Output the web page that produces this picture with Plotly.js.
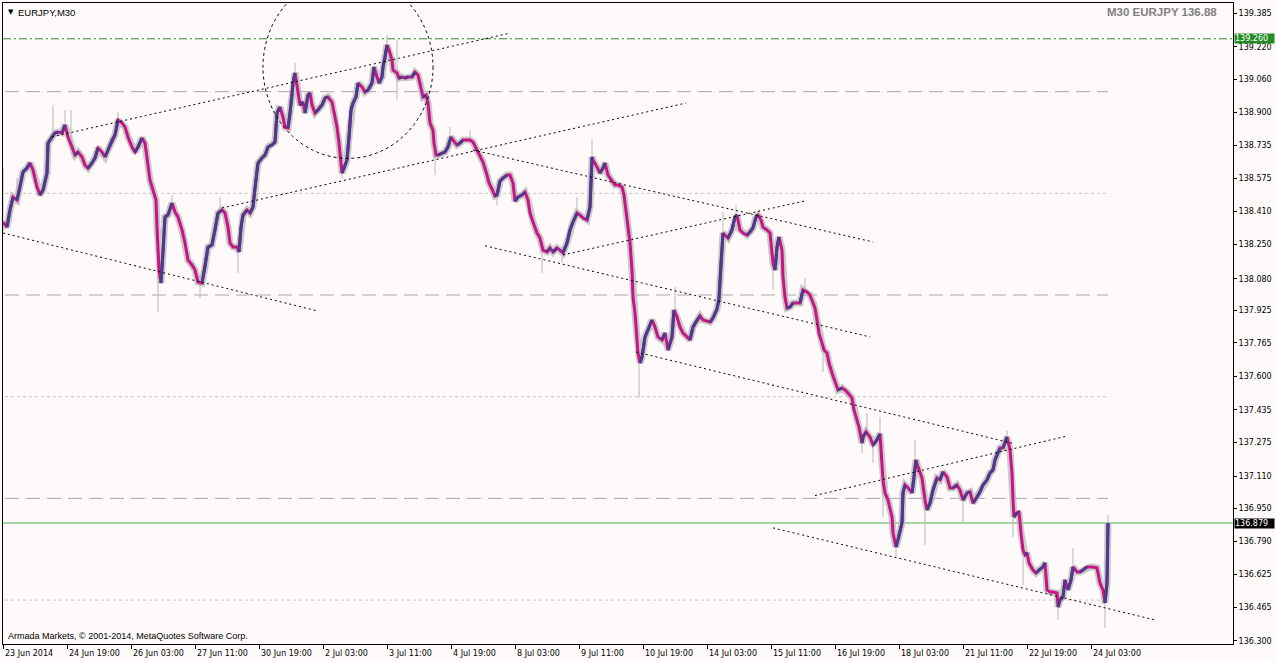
<!DOCTYPE html>
<html>
<head>
<meta charset="utf-8">
<script src="https://cdn.plot.ly/plotly-3.0.1.min.js"></script>
<style>
html,body{margin:0;padding:0;background:#FFFAFA;}
#chart{width:1276px;height:662px;}
</style>
</head>
<body>
<div id="chart"></div>
<script>
// ---- data ----
// bar position (1 unit = one M30 bar column) and close price
const barIndex = [
3,7,10,13,17,20,23,27,30,33,
37,40,43,47,48,52,55,58,62,65,
68,72,75,78,82,85,88,92,95,98,
102,105,108,112,115,118,122,125,128,132,
135,138,142,145,147,150,153,156,157,159,
161,163,165,168,172,175,178,182,185,188,
192,195,198,202,205,208,212,215,218,222,
225,228,230,233,237,239,241,243,247,250,
253,255,258,262,265,268,272,275,277,280,
283,285,288,290,292,293,295,297,298,300,
303,305,308,310,312,315,318,322,325,328,
332,335,337,339,341,342,344,347,349,351,
353,356,358,362,365,368,372,374,377,379,
382,383,385,387,389,392,393,397,399,402,
405,408,412,415,418,421,423,426,428,430,
433,434,436,438,442,445,448,451,453,457,
460,463,467,470,473,477,480,483,487,489,
493,495,497,500,503,507,510,513,515,518,
522,525,528,530,533,537,540,543,547,550,
553,557,560,563,567,570,573,577,580,583,
587,590,592,593,597,600,603,605,608,612,
615,618,622,624,626,628,630,632,633,635,
637,638,640,642,645,648,652,655,658,662,
665,668,672,674,677,680,683,687,690,693,
697,700,703,707,710,713,717,719,721,723,
725,728,732,735,737,740,743,747,750,753,
756,758,761,763,767,770,773,775,777,779,
782,783,785,787,790,793,797,800,803,807,
810,813,815,817,819,822,824,827,829,832,
835,838,842,845,848,852,854,857,859,862,
863,866,868,870,873,877,880,882,883,885,
888,892,893,896,898,902,903,905,908,912,
914,916,918,922,925,927,930,933,937,940,
943,947,950,953,957,960,963,967,970,973,
977,980,983,987,990,993,995,997,1000,1003,
1007,1010,1012,1013,1014,1017,1019,1021,1023,1025,
1027,1029,1033,1036,1039,1043,1045,1047,1050,1053,
1057,1058,1060,1063,1065,1068,1071,1073,1077,1080,
1083,1087,1090,1093,1097,1100,1103,1105,1107,1108
];
const closePrice = [
138.359,138.334,138.418,138.482,138.467,138.531,138.605,138.624,138.649,138.615,
138.531,138.492,138.516,138.600,138.747,138.777,138.797,138.801,138.797,138.836,
138.777,138.728,138.688,138.703,138.679,138.639,138.624,138.649,138.674,138.723,
138.703,138.679,138.713,138.762,138.787,138.860,138.846,138.826,138.777,138.728,
138.703,138.728,138.772,138.747,138.664,138.565,138.516,138.467,138.334,138.123,
138.059,138.207,138.384,138.393,138.452,138.408,138.384,138.320,138.256,138.172,
138.148,138.123,138.064,138.059,138.138,138.236,138.246,138.320,138.403,138.418,
138.403,138.334,138.256,138.236,138.236,138.212,138.334,138.393,138.418,138.403,
138.433,138.526,138.649,138.674,138.688,138.728,138.738,138.752,138.895,138.924,
138.875,138.826,138.821,138.895,138.983,139.042,139.092,139.042,138.998,138.934,
138.949,138.895,138.983,138.993,138.934,138.895,138.910,138.934,138.969,138.974,
138.949,138.875,138.826,138.747,138.649,138.600,138.624,138.664,138.777,138.910,
138.944,138.974,139.042,139.023,138.998,139.008,139.042,139.121,139.072,139.042,
139.072,139.121,139.170,139.229,139.205,139.155,139.106,139.092,139.067,139.072,
139.067,139.072,139.072,139.096,139.082,139.023,138.974,138.983,138.944,138.846,
138.811,138.747,138.688,138.688,138.698,138.703,138.728,138.777,138.762,138.738,
138.747,138.762,138.762,138.762,138.752,138.713,138.688,138.654,138.590,138.551,
138.511,138.487,138.492,138.561,138.575,138.590,138.590,138.551,138.462,138.482,
138.492,138.506,138.467,138.403,138.359,138.305,138.280,138.221,138.212,138.231,
138.212,138.231,138.221,138.207,138.256,138.320,138.359,138.403,138.393,138.379,
138.369,138.433,138.679,138.664,138.629,138.600,138.624,138.649,138.590,138.565,
138.541,138.541,138.531,138.492,138.418,138.320,138.256,138.123,137.990,137.912,
137.794,137.715,137.666,137.695,137.794,137.828,137.877,137.843,137.794,137.779,
137.813,137.730,137.794,137.926,137.892,137.843,137.813,137.794,137.779,137.843,
137.877,137.897,137.877,137.872,137.867,137.887,137.931,137.980,138.157,138.305,
138.295,138.280,138.320,138.384,138.393,138.320,138.305,138.295,138.310,138.330,
138.384,138.393,138.369,138.334,138.320,138.305,138.157,138.123,138.236,138.285,
138.221,138.089,137.990,137.936,137.941,137.961,137.961,137.961,138.025,138.015,
138.000,137.966,137.936,137.877,137.813,137.764,137.730,137.715,137.666,137.617,
137.572,137.533,137.543,137.533,137.518,137.494,137.435,137.386,137.351,137.272,
137.302,137.327,137.312,137.302,137.263,137.287,137.317,137.174,137.091,137.027,
136.992,136.909,136.830,136.761,136.796,136.879,137.027,137.066,137.052,137.027,
137.105,137.189,137.155,137.100,136.992,136.943,136.977,137.041,137.100,137.091,
137.130,137.105,137.051,137.051,137.066,137.041,136.992,137.027,137.032,136.977,
137.007,137.032,137.066,137.091,137.125,137.140,137.189,137.213,137.248,137.248,
137.302,137.238,137.125,136.992,136.909,136.928,136.933,136.830,136.746,136.722,
136.732,136.683,136.648,136.633,136.648,136.663,136.683,136.550,136.540,136.540,
136.535,136.466,136.501,136.515,136.599,136.550,136.599,136.663,136.638,136.638,
136.648,136.663,136.663,136.663,136.658,136.584,136.550,136.486,136.584,136.879
];
// prominent high/low wicks (gray)
const wickX =    [3,17,53,65,71,118,158,172,200,220,238,277,295,342,387,397,435,450,470,497,542,562,577,592,639,675,723,736,773,805,823,862,867,873,880,883,896,915,925,963,1007,1013,1023,1058,1073,1105,1108];
const wickHigh = [138.624,138.575,138.934,138.910,138.910,138.900,138.221,138.492,138.098,138.482,138.246,138.934,139.141,138.639,139.278,139.254,138.713,138.826,138.811,138.516,138.246,138.221,138.482,138.762,137.705,138.039,138.408,138.443,138.197,138.084,137.754,137.287,137.420,137.287,137.400,137.100,136.771,137.287,137.017,137.017,137.336,136.992,136.756,136.501,136.756,136.550,136.918];
const wickLow =  [138.305,138.467,138.762,138.821,138.738,138.851,137.917,138.418,137.985,138.408,138.108,138.860,139.057,138.575,139.205,138.959,138.590,138.762,138.752,138.443,138.108,138.157,138.408,138.674,137.494,137.926,138.310,138.389,138.025,138.015,137.622,137.223,137.327,137.174,137.312,136.909,136.712,137.164,136.771,136.884,137.263,136.810,136.574,136.402,136.663,136.363,136.845];

// price axis labels
const priceTicks = [139.385,139.220,139.060,138.900,138.735,138.575,138.410,138.250,138.080,137.925,137.765,137.600,137.435,137.275,137.110,136.950,136.790,136.625,136.465,136.300];
// time axis labels
const timeTickX = [3,67,131,195,259,323,387,451,515,579,643,707,771,835,899,963,1027,1091];
const timeLabels = ["23 Jun 2014","24 Jun 19:00","26 Jun 03:00","27 Jun 11:00","30 Jun 19:00","2 Jul 03:00","3 Jul 11:00","4 Jul 19:00","8 Jul 03:00","9 Jul 11:00","10 Jul 19:00","14 Jul 03:00","15 Jul 11:00","16 Jul 19:00","18 Jul 03:00","21 Jul 11:00","22 Jul 19:00","24 Jul 03:00"];

// horizontal levels
const wholeLevels = [139.0, 138.0, 137.0];
const halfLevels = [138.5, 137.5, 136.5];
const levelX = [5, 1108];
const greenLevel = 139.260;
const lastPrice = 136.879;

// trend lines (start bar, start price, end bar, end price)
const trendX0 = [3, 52, 222, 473, 485, 636, 563, 815, 773];
const trendP0 = [138.305, 138.778, 138.428, 138.713, 138.242, 137.720, 138.197, 137.014, 136.855];
const trendX1 = [318, 510, 686, 873, 870, 1015, 804, 1068, 1157];
const trendP1 = [137.921, 139.288, 138.944, 138.261, 137.794, 137.268, 138.462, 137.308, 136.400];
// circle around the top
const circleX = [263, 433];
const circleP = [138.672, 139.571];

// ---- build traces ----
if (barIndex.length !== closePrice.length) console.warn('length mismatch', barIndex.length, closePrice.length);

const wx = [], wy = [];
for (let i = 0; i < wickX.length; i++) {
  wx.push(wickX[i], wickX[i], null);
  wy.push(wickHigh[i], wickLow[i], null);
}
const ux = [], uy = [];
for (let i = 1; i < closePrice.length; i++) {
  if (closePrice[i] > closePrice[i-1]) {
    ux.push(barIndex[i-1], barIndex[i], null);
    uy.push(closePrice[i-1], closePrice[i], null);
  }
}

const traces = [
  {x: barIndex, y: closePrice, type: 'scatter', mode: 'lines', line: {color: 'rgba(190,190,190,0.8)', width: 7}, hoverinfo: 'skip'},
  {x: wx, y: wy, type: 'scatter', mode: 'lines', line: {color: '#B8B8B8', width: 1}, hoverinfo: 'skip'},
  {x: barIndex, y: closePrice, type: 'scatter', mode: 'lines', line: {color: '#C71585', width: 3}},
  {x: ux, y: uy, type: 'scatter', mode: 'lines', line: {color: '#483D8B', width: 3}, connectgaps: false, hoverinfo: 'skip'}
];

const shapes = [];
wholeLevels.forEach(v => shapes.push({type: 'line', xref: 'x', yref: 'y', x0: levelX[0], x1: levelX[1], y0: v, y1: v, layer: 'below', line: {color: '#A8A8A8', width: 1, dash: '14px,7px'}}));
halfLevels.forEach(v => shapes.push({type: 'line', xref: 'x', yref: 'y', x0: levelX[0], x1: levelX[1], y0: v, y1: v, layer: 'below', line: {color: '#C4C4C4', width: 1, dash: '3px,3px'}}));
shapes.push({type: 'line', xref: 'paper', yref: 'y', x0: 0, x1: 1, y0: greenLevel, y1: greenLevel, layer: 'below', line: {color: '#228B22', width: 1, dash: '8px,3px,2px,3px'}});
shapes.push({type: 'line', xref: 'paper', yref: 'y', x0: 0, x1: 1, y0: lastPrice, y1: lastPrice, layer: 'below', line: {color: '#4CAF50', width: 1}});
for (let i = 0; i < trendX0.length; i++) {
  shapes.push({type: 'line', xref: 'x', yref: 'y', x0: trendX0[i], x1: trendX1[i], y0: trendP0[i], y1: trendP1[i], layer: 'above', line: {color: '#000000', width: 1, dash: '2px,3px'}});
}
shapes.push({type: 'circle', xref: 'x', yref: 'y', x0: circleX[0], x1: circleX[1], y0: circleP[0], y1: circleP[1], layer: 'above', line: {color: '#000000', width: 1, dash: '3px,3px'}});

const font = 'Liberation Sans, Arial, sans-serif';
const small = 'DejaVu Sans, sans-serif';
const annotations = [];
timeLabels.forEach((t, i) => annotations.push({
  xref: 'x', yref: 'paper', x: timeTickX[i], y: 0, xanchor: 'left', yanchor: 'top', xshift: 0, yshift: -3,
  text: t, showarrow: false, font: {family: small, size: 8, color: '#000'}
}));
annotations.push({xref: 'paper', yref: 'y', x: 1, y: greenLevel, xanchor: 'left', yanchor: 'middle', xshift: 1,
  text: '139.260', showarrow: false, bgcolor: '#228B22', width: 39, align: 'left', borderpad: 0,
  font: {family: small, size: 8, color: '#FFFFFF'}});
annotations.push({xref: 'paper', yref: 'y', x: 1, y: lastPrice, xanchor: 'left', yanchor: 'middle', xshift: 1,
  text: '136.879', showarrow: false, bgcolor: '#000000', width: 39, align: 'left', borderpad: 0,
  font: {family: small, size: 8, color: '#FFFFFF'}});
annotations.push({xref: 'paper', yref: 'paper', x: 0, y: 1, xanchor: 'left', yanchor: 'top', xshift: 3, yshift: -3,
  text: '▼', showarrow: false, font: {family: 'DejaVu Sans', size: 7, color: '#000'}});
annotations.push({xref: 'paper', yref: 'paper', x: 0, y: 1, xanchor: 'left', yanchor: 'top', xshift: 13, yshift: -2,
  text: 'EURJPY,M30', showarrow: false, font: {family: font, size: 9.5, color: '#000'}});
annotations.push({xref: 'paper', yref: 'paper', x: 1, y: 1, xanchor: 'right', yanchor: 'top', xshift: -14, yshift: -1,
  text: '<b>M30 EURJPY 136.88</b>', showarrow: false, font: {family: font, size: 11.5, color: '#808080'}});
annotations.push({xref: 'paper', yref: 'paper', x: 0, y: 0, xanchor: 'left', yanchor: 'bottom', xshift: 3, yshift: 1,
  text: 'Armada Markets, © 2001-2014, MetaQuotes Software Corp.', showarrow: false, font: {family: font, size: 9, color: '#000'}});

const layout = {
  width: 1276, height: 662,
  margin: {l: 3, r: 43, t: 3, b: 18, pad: 0},
  paper_bgcolor: '#FFFAFA', plot_bgcolor: '#FFFAFA',
  showlegend: false,
  xaxis: {range: [3, 1233], showgrid: false, zeroline: false, tickvals: timeTickX, showticklabels: false,
    ticks: 'outside', ticklen: 4, tickcolor: '#000', showline: true, mirror: true, linecolor: '#000', linewidth: 1, fixedrange: true},
  yaxis: {side: 'right', range: [136.284, 139.436], showgrid: false, zeroline: false,
    tickvals: priceTicks, ticktext: priceTicks.map(v => v.toFixed(3)),
    ticks: 'outside', ticklen: 3, tickcolor: '#000', showline: true, mirror: true, linecolor: '#000', linewidth: 1,
    tickfont: {family: small, size: 8, color: '#000'}, fixedrange: true},
  shapes: shapes,
  annotations: annotations,
  hovermode: false
};

Plotly.newPlot('chart', traces, layout, {displayModeBar: false, staticPlot: true});
</script>
</body>
</html>
